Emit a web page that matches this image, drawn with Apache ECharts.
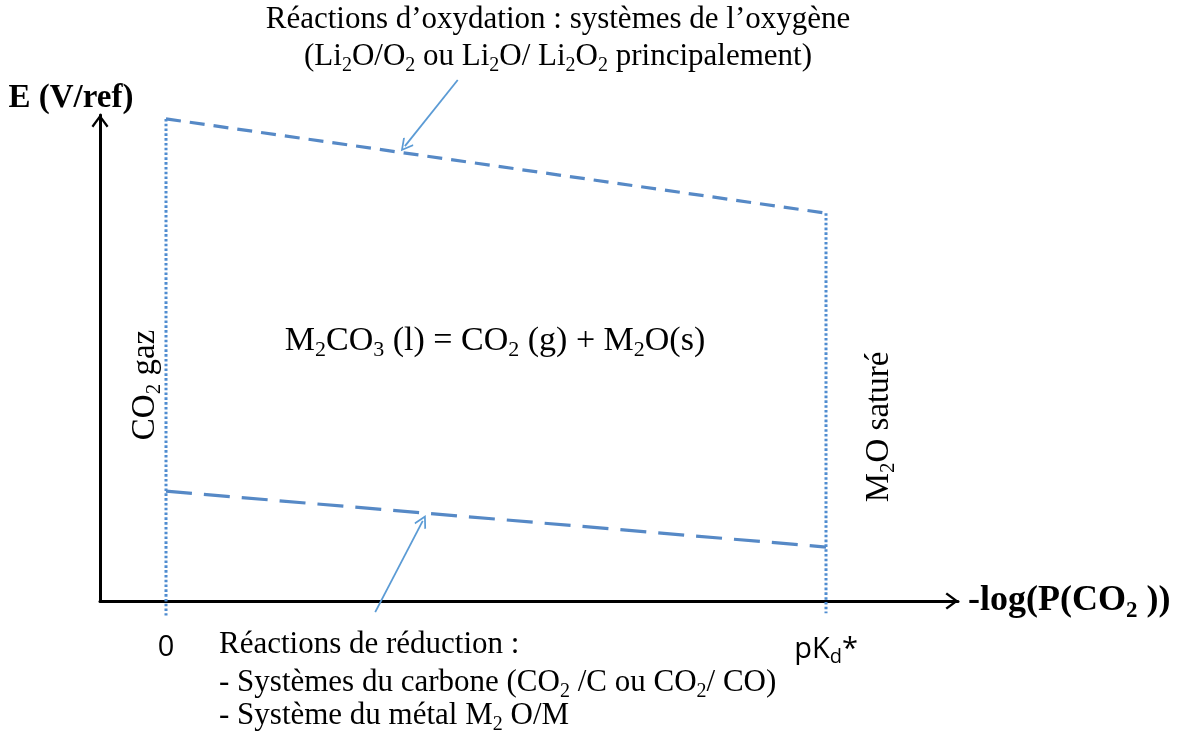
<!DOCTYPE html>
<html>
<head>
<meta charset="utf-8">
<title>Domaine de stabilité M2CO3</title>
<script src="https://cdn.jsdelivr.net/npm/echarts@6/dist/echarts.min.js"></script>
<style>
  html, body { margin: 0; padding: 0; background: #fff; }
  #main { width: 1183px; height: 735px; }
</style>
</head>
<body>
<div id="main"></div>
<script>
// abscisse : 0 et pKd*
const xTicks = [0, 10];
const xTickLabels = ['0', '{n|pK}{sub|d}{n|*}'];

// limites du domaine (E en unités arbitraires)
const oxydation = [[0, 9.92], [10, 7.98]];
const reduction = [[0, 2.26], [10, 1.11]];
const bordCO2 = [[0, 9.92], [0, -0.3]];
const bordM2O = [[10, 7.98], [10, -0.25]];

// flèches d'annotation : [départ, pointe]
const flecheOx = [[4.42, 10.72], [3.62, 9.36]];
const flecheRed = [[3.17, -0.23], [3.89, 1.65]];

const SERIF = 'Liberation Serif';
const SANS = 'Open Sans';
const axisArrow = 'path://M8.5,0 L17,11.5 L15.2,13 L8.5,3.8 L1.8,13 L0,11.5 Z';
const smallArrow = 'path://M7,0 L14,10.5 L12.6,11.6 L7,3.2 L1.4,11.6 L0,10.5 Z';

const chart = echarts.init(document.getElementById('main'));

// styles rich pour les indices
function richSerif(size, bold) {
  return {
    s: {
      fontSize: Math.round(size * 0.65),
      fontFamily: SERIF,
      fontWeight: bold ? 'bold' : 'normal',
      fill: '#000',
      color: '#000',
      padding: [Math.round(size * 0.55), 0, 0, 0]
    }
  };
}

function texte(x, y, txt, size, opts) {
  opts = opts || {};
  return {
    type: 'text',
    x: x,
    y: y,
    rotation: opts.rotation || 0,
    style: {
      text: txt,
      fontSize: size,
      fontFamily: SERIF,
      fill: '#000',
      align: opts.align || 'center',
      verticalAlign: 'middle',
      rich: richSerif(size)
    }
  };
}

const option = {
  animation: false,
  backgroundColor: '#fff',
  grid: { left: 100, right: 225, top: 115, bottom: 134 },
  xAxis: {
    type: 'value',
    min: -1,
    max: 12,
    name: '-log(P(CO{s|2} ))',
    nameLocation: 'end',
    nameGap: 10,
    nameTextStyle: {
      fontFamily: SERIF,
      fontWeight: 'bold',
      fontSize: 36,
      color: '#000',
      align: 'left',
      verticalAlign: 'middle',
      rich: richSerif(36, true)
    },
    axisLine: {
      show: true,
      lineStyle: { color: '#000', width: 3 },
      symbol: ['none', axisArrow],
      symbolSize: [17, 13],
      symbolOffset: [0, -6]
    },
    axisTick: { show: false },
    splitLine: { show: false },
    axisLabel: {
      customValues: xTicks,
      margin: 32,
      fontFamily: SANS,
      fontSize: 29,
      color: '#000',
      formatter: function (v) {
        return xTickLabels[xTicks.indexOf(v)];
      },
      rich: {
        n: { fontFamily: SANS, fontSize: 29, color: '#000' },
        sub: { fontFamily: SANS, fontSize: 20, color: '#000', padding: [14, 0, 0, 0] }
      }
    }
  },
  yAxis: {
    type: 'value',
    min: 0,
    max: 10,
    name: 'E (V/ref)',
    nameLocation: 'end',
    nameGap: 0,
    nameTextStyle: {
      fontFamily: SERIF,
      fontWeight: 'bold',
      fontSize: 33,
      color: '#000',
      align: 'center',
      padding: [0, 58, 0, 0]
    },
    axisLine: {
      show: true,
      onZero: false,
      lineStyle: { color: '#000', width: 3 },
      symbol: ['none', axisArrow],
      symbolSize: [17, 13],
      symbolOffset: [0, -6]
    },
    axisTick: { show: false },
    axisLabel: { show: false },
    splitLine: { show: false }
  },
  series: [
    {
      name: 'oxydation',
      type: 'line',
      data: oxydation,
      symbol: 'none',
      clip: false,
      lineStyle: { color: '#5689c6', width: 3.2, type: [15, 9] }
    },
    {
      name: 'réduction',
      type: 'line',
      data: reduction,
      symbol: 'none',
      clip: false,
      lineStyle: { color: '#5689c6', width: 3.2, type: [26, 12] }
    },
    {
      name: 'CO2 gaz',
      type: 'line',
      data: bordCO2,
      symbol: 'none',
      clip: false,
      lineStyle: { color: '#4f8cd0', width: 3, type: [2.6, 2.2] }
    },
    {
      name: 'M2O saturé',
      type: 'line',
      data: bordM2O,
      symbol: 'none',
      clip: false,
      lineStyle: { color: '#4f8cd0', width: 3, type: [2.6, 2.2] }
    },
    {
      name: 'annotations',
      type: 'lines',
      coordinateSystem: 'cartesian2d',
      clip: false,
      symbol: ['none', smallArrow],
      symbolSize: [16, 13],
      lineStyle: { color: '#5b9bd5', width: 1.8, opacity: 1 },
      data: [{ coords: flecheOx }, { coords: flecheRed }]
    }
  ],
  graphic: [
    texte(558, 20, 'Réactions d’oxydation : systèmes de l’oxygène', 31),
    texte(558, 57, '(Li{s|2}O/O{s|2} ou Li{s|2}O/ Li{s|2}O{s|2} principalement)', 31),
    texte(495, 341, 'M{s|2}CO{s|3} (l) = CO{s|2} (g) + M{s|2}O(s)', 34),
    texte(145, 385, 'CO{s|2} gaz', 33, { rotation: Math.PI / 2 }),
    texte(879, 427, 'M{s|2}O saturé', 33, { rotation: Math.PI / 2 }),
    texte(219, 645, 'Réactions de réduction :', 31, { align: 'left' }),
    texte(219, 683, '- Systèmes du carbone (CO{s|2} /C ou CO{s|2}/ CO)', 31, { align: 'left' }),
    texte(219, 716, '- Système du métal M{s|2} O/M', 31, { align: 'left' })
  ]
};

chart.setOption(option);
</script>
</body>
</html>
